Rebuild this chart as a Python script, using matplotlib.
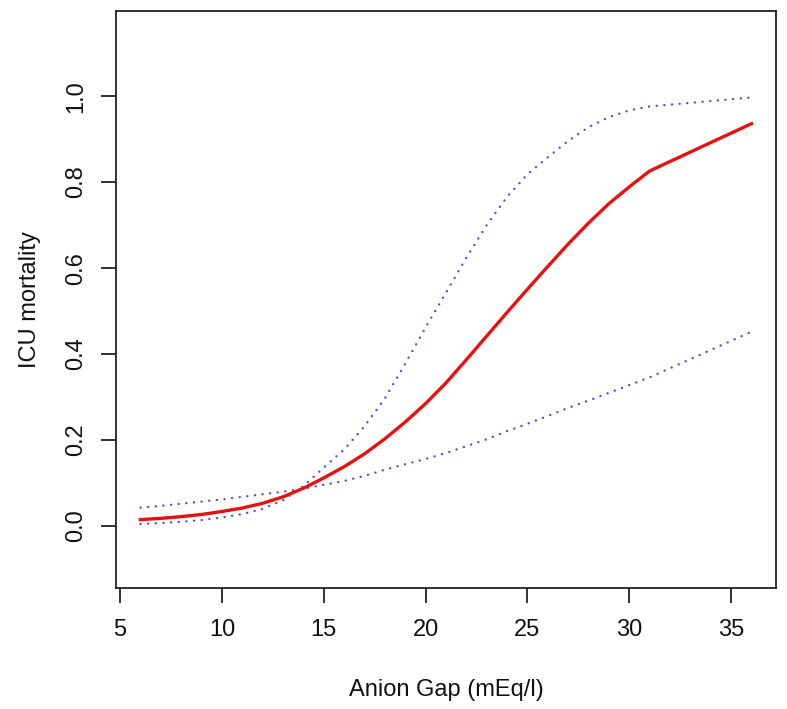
import matplotlib
matplotlib.use("Agg")
import matplotlib.pyplot as plt

# Data
anion_gap = [6, 7, 8, 9, 10, 11, 12, 13, 14, 15, 16, 17, 18, 19, 20,
             21, 22, 23, 24, 25, 26, 27, 28, 29, 30, 31, 36]
mortality = [0.015, 0.018, 0.022, 0.027, 0.034, 0.042, 0.053, 0.068, 0.088,
             0.112, 0.138, 0.168, 0.203, 0.242, 0.285, 0.333, 0.387, 0.442,
             0.497, 0.551, 0.604, 0.656, 0.705, 0.750, 0.789, 0.826, 0.936]
upper_ci = [0.005, 0.007, 0.010, 0.014, 0.020, 0.028, 0.040, 0.060, 0.093,
            0.136, 0.178, 0.232, 0.297, 0.378, 0.462, 0.543, 0.624, 0.700,
            0.766, 0.818, 0.858, 0.896, 0.928, 0.951, 0.967, 0.976, 0.997]
lower_ci = [0.043, 0.047, 0.052, 0.057, 0.062, 0.068, 0.074, 0.080, 0.087,
            0.096, 0.105, 0.117, 0.131, 0.144, 0.156, 0.170, 0.186, 0.202,
            0.221, 0.238, 0.256, 0.275, 0.292, 0.310, 0.328, 0.346, 0.452]

x_ticks = [5, 10, 15, 20, 25, 30, 35]
y_ticks = [0.0, 0.2, 0.4, 0.6, 0.8, 1.0]
y_tick_labels = ["0.0", "0.2", "0.4", "0.6", "0.8", "1.0"]

plt.rcParams['font.family'] = ['Liberation Sans', 'DejaVu Sans']

fig = plt.figure(figsize=(7.87, 7.09), dpi=100)
ax = fig.add_axes([116 / 787, 1 - 588 / 709, (776 - 116) / 787, (588 - 11) / 709])

ci_style = dict(color='#4a4ae0', linewidth=1.7, linestyle=(0, (0.05, 3.2)),
                dash_capstyle='round')
ax.plot(anion_gap, upper_ci, **ci_style)
ax.plot(anion_gap, lower_ci, **ci_style)
ax.plot(anion_gap, mortality, color='#e81010', linewidth=2.4)

ax.set_xlim(4.8, 37.2)
ax.set_ylim(-0.144, 1.198)
ax.set_xticks(x_ticks)
ax.set_xticklabels([str(t) for t in x_ticks])
ax.set_yticks(y_ticks)
ax.set_yticklabels(y_tick_labels, rotation=90, va='center')

for s in ax.spines.values():
    s.set_linewidth(1.3)
    s.set_color('#222222')
ax.tick_params(axis='both', length=11, width=1.3, color='#222222',
               labelsize=17, labelcolor='#111111')
ax.tick_params(axis='x', pad=11)
ax.tick_params(axis='y', pad=10)

ax.set_xlabel("Anion Gap (mEq/l)", fontsize=17, color='#111111', labelpad=28)
ax.set_ylabel("ICU mortality", fontsize=17, color='#111111', labelpad=17)

fig.savefig("out.png", dpi=100, facecolor='white')
